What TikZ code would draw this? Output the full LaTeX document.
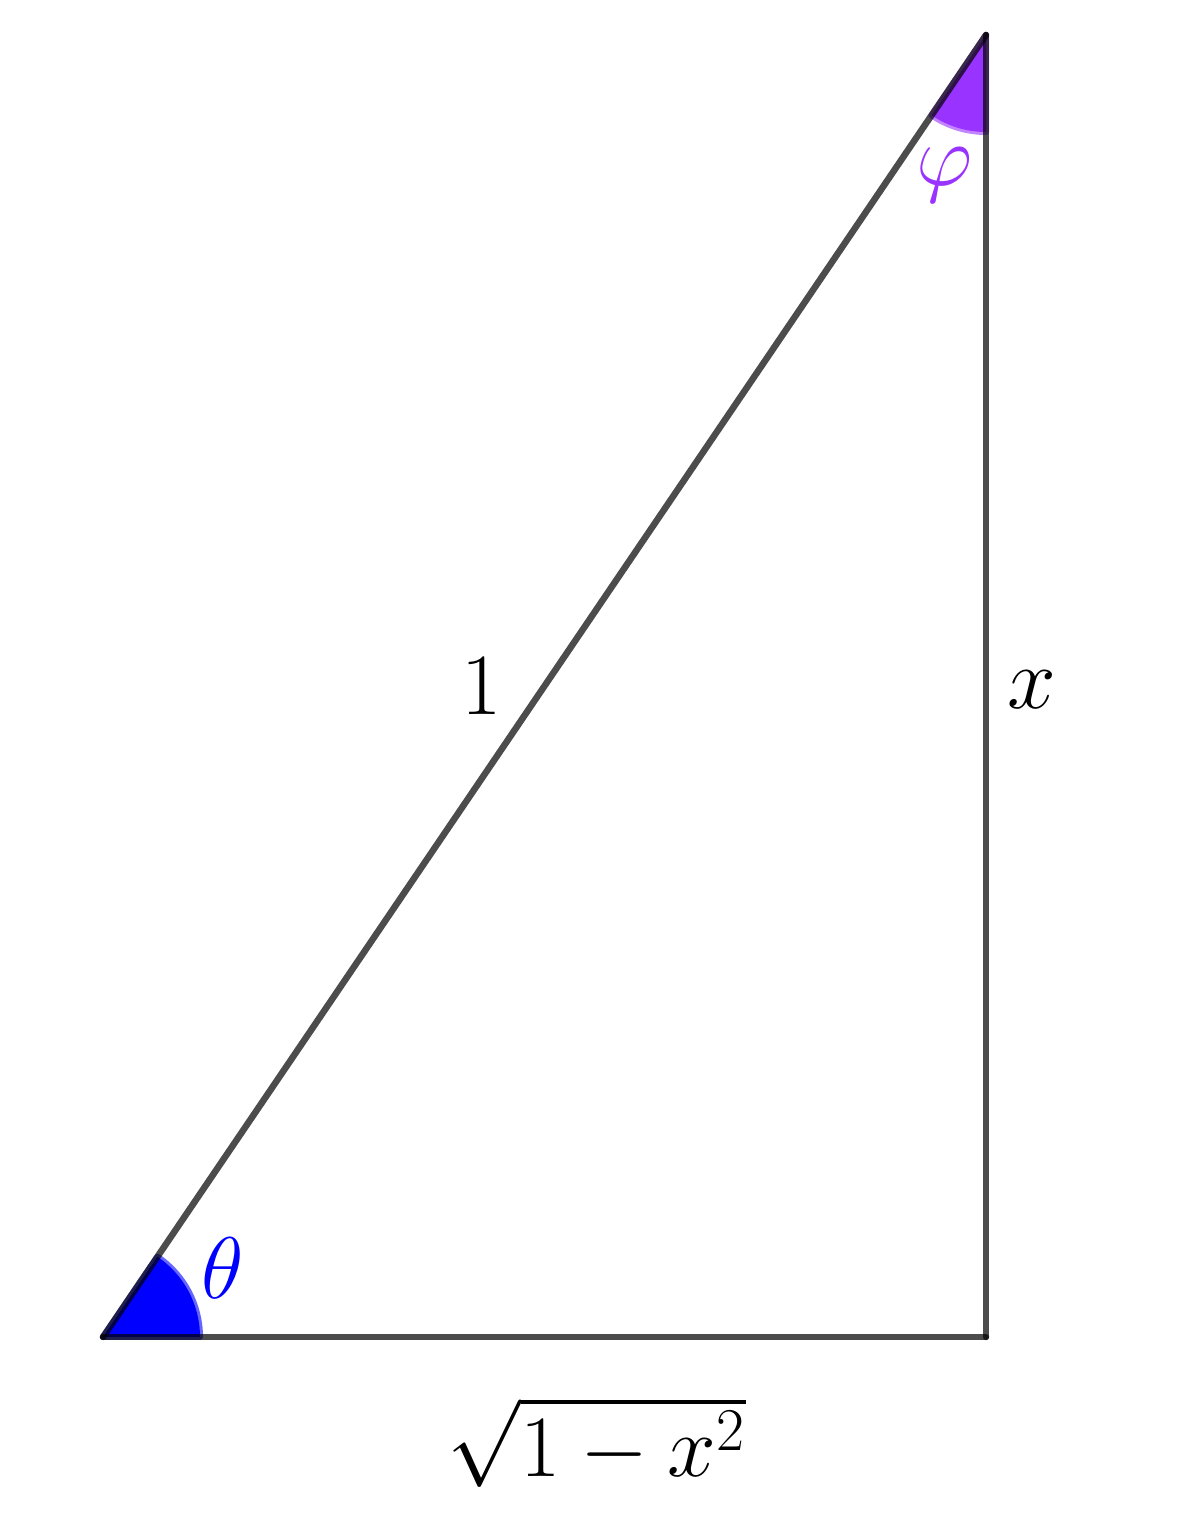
\documentclass[tikz,border=0pt]{standalone}
\usepackage{amsmath}
\definecolor{phicol}{HTML}{9933FF}
\begin{document}
\begin{tikzpicture}[line join=round,line cap=round,font=\fontsize{25}{30}\selectfont,
	side/.style={draw=black,draw opacity=0.7,line width=0.065cm},
	wedge/.style={line width=0.06cm,draw opacity=0.6}]
	\useasboundingbox (0,0) rectangle (11.8,15.4);
	\def\r{0.97};
	\path
	(1.03,2.03) coordinate (A)
	(9.86,2.03) coordinate (B)
	(9.86,15.05) coordinate (C)
	;
	\filldraw[wedge,fill=blue,draw=blue] (A) -- ++(0:\r) arc (0:55.85:\r) -- cycle;
	\filldraw[wedge,fill=phicol,draw=phicol] (C) -- ++(270:\r) arc (270:235.85:\r) -- cycle;
	\foreach \p/\q in {A/B,B/C,C/A}\draw[side] (\p)--(\q);
	\node[blue] (theta) at (2.23,2.72) {$\theta$};
	\node[phicol] (phi) at (9.45,13.65) {$\varphi$};
	\node (hyp) at (4.82,8.54) {$1$};
	\node (opp) at (10.32,8.50) {$x$};
	\node (adj) at (5.97,0.98) {\fontsize{27}{32}\selectfont$\sqrt{1-x^2}$};
\end{tikzpicture}
\end{document}
